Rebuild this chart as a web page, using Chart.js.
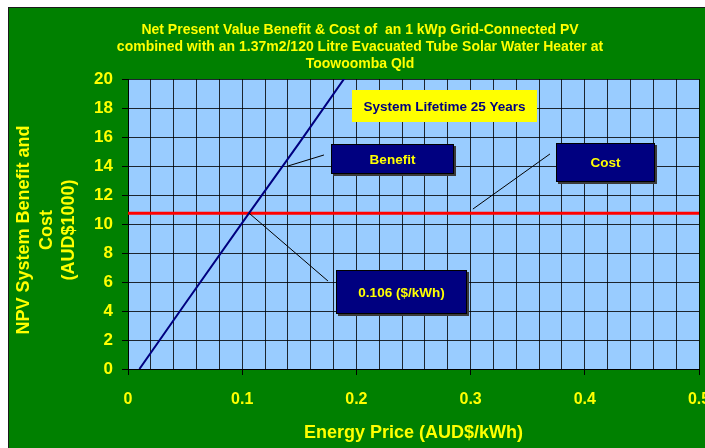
<!DOCTYPE html>
<html>
<head>
<meta charset="utf-8">
<script src="https://cdn.jsdelivr.net/npm/chart.js@4/dist/chart.umd.min.js"></script>
<style>
  html, body { margin: 0; padding: 0; background: #ffffff; }
  canvas { display: block; }
</style>
</head>
<body>
<canvas id="npv" width="705" height="448"></canvas>
<script>
// ---- chart text ----
const titleLines = [
  'Net Present Value Benefit & Cost of  an 1 kWp Grid-Connected PV',
  'combined with an 1.37m2/120 Litre Evacuated Tube Solar Water Heater at',
  'Toowoomba Qld'
];
const yTitleLines = ['NPV System Benefit and', 'Cost', '(AUD$1000)'];
const xTitle = 'Energy Price (AUD$/kWh)';
const xTickLabels = ['0', '0.1', '0.2', '0.3', '0.4', '0.5'];
const yTickLabels = ['0', '2', '4', '6', '8', '10', '12', '14', '16', '18', '20'];

// ---- series (price in AUD$/kWh, NPV in AUD$1000) ----
const benefitPrice = [0.01, 0.05, 0.106, 0.15, 0.19];
const benefitNpv   = [0, 4.5, 10.75, 15.6, 20.1];
const costPrice    = [0, 0.5];
const costNpv      = [10.75, 10.75];
const breakEvenPrice = 0.106;

// ---- callout texts ----
const lifetimeText  = 'System Lifetime 25 Years';
const benefitText   = 'Benefit';
const costText      = 'Cost';
const breakEvenText = breakEvenPrice.toFixed(3) + ' ($/kWh)';

const FONT = '"Liberation Sans", Arial, Helvetica, sans-serif';
const YELLOW = '#ffff00';
const NAVY = '#000080';
const GREEN = '#008000';

// callout boxes and their leader lines, placed in axis units
const callouts = [
  { text: lifetimeText, x0: 0.196, x1: 0.358, yTop: 19.24, yBot: 17.03, fill: YELLOW, color: NAVY, shadow: false },
  { text: benefitText, x0: 0.1778, x1: 0.2855, yTop: 15.52, yBot: 13.45, fill: NAVY, color: YELLOW, shadow: true },
  { text: costText, x0: 0.3748, x1: 0.4615, yTop: 15.59, yBot: 12.9, fill: NAVY, color: YELLOW, shadow: true },
  { text: breakEvenText, x0: 0.1821, x1: 0.2968, yTop: 6.83, yBot: 3.79, fill: NAVY, color: YELLOW, shadow: true }
];
const leaders = [
  { from: [0.1716, 14.76], to: [0.1401, 14.0] },
  { from: [0.3695, 14.83], to: [0.302, 11.03] },
  { from: [0.1751, 6.07], to: [breakEvenPrice, costNpv[0]] }
];

const pairs = (xs, ys) => xs.map((x, i) => ({ x: x, y: ys[i] }));
const isTenth = v => Math.abs(v * 10 - Math.round(v * 10)) < 1e-6;

const backdrop = {
  id: 'backdrop',
  beforeDraw(chart) {
    const { ctx, chartArea: a } = chart;
    ctx.save();
    ctx.fillStyle = '#ffffff';
    ctx.fillRect(0, 0, chart.width, chart.height);
    ctx.fillStyle = '#1b1b1b';
    ctx.fillRect(8, 7, chart.width - 8, chart.height - 7);
    ctx.fillStyle = GREEN;
    ctx.fillRect(9, 8, chart.width - 9, chart.height - 8);
    ctx.fillStyle = '#99ccff';
    ctx.fillRect(a.left, a.top, a.right - a.left, a.bottom - a.top);
    ctx.restore();
  }
};

const notes = {
  id: 'notes',
  afterDatasetsDraw(chart) {
    const { ctx } = chart;
    const xs = chart.scales.x, ys = chart.scales.y;
    const px = v => xs.getPixelForValue(v);
    const py = v => ys.getPixelForValue(v);
    ctx.save();
    ctx.strokeStyle = '#000000';
    ctx.lineWidth = 1;
    leaders.forEach(l => {
      ctx.beginPath();
      ctx.moveTo(px(l.from[0]), py(l.from[1]));
      ctx.lineTo(px(l.to[0]), py(l.to[1]));
      ctx.stroke();
    });
    callouts.forEach(c => {
      const l = Math.round(px(c.x0)), r = Math.round(px(c.x1));
      const t = Math.round(py(c.yTop)), b = Math.round(py(c.yBot));
      if (c.shadow) {
        ctx.fillStyle = '#3a3a3a';
        ctx.fillRect(l + 2, t + 2, r - l, b - t);
      }
      ctx.fillStyle = c.fill;
      ctx.fillRect(l, t, r - l, b - t);
      if (c.shadow) {
        ctx.strokeStyle = '#000000';
        ctx.strokeRect(l + 0.5, t + 0.5, r - l - 1, b - t - 1);
      }
      ctx.fillStyle = c.color;
      ctx.font = 'bold 13.5px ' + FONT;
      ctx.textAlign = 'center';
      ctx.textBaseline = 'middle';
      ctx.fillText(c.text, (l + r) / 2, (t + b) / 2 + 1);
    });
    ctx.restore();
  },
  afterDraw(chart) {
    const { ctx } = chart;
    ctx.save();
    ctx.fillStyle = YELLOW;
    ctx.textAlign = 'center';
    ctx.textBaseline = 'middle';
    ctx.font = 'bold 14px ' + FONT;
    titleLines.forEach((line, i) => ctx.fillText(line, 360, 30 + i * 17));

    ctx.font = 'bold 18px ' + FONT;
    ctx.fillText(xTitle, (chart.chartArea.left + chart.chartArea.right) / 2, 433);

    ctx.translate(47, 230);
    ctx.rotate(-Math.PI / 2);
    yTitleLines.forEach((line, i) => ctx.fillText(line, 0, (i - 1) * 22.5));
    ctx.restore();
  }
};

new Chart(document.getElementById('npv'), {
  type: 'line',
  data: {
    datasets: [
      {
        label: 'Benefit',
        data: pairs(benefitPrice, benefitNpv),
        borderColor: NAVY,
        borderWidth: 2,
        pointRadius: 0,
        tension: 0,
        clip: 0
      },
      {
        label: 'Cost',
        data: pairs(costPrice, costNpv),
        borderColor: '#ff0000',
        borderWidth: 3,
        pointRadius: 0,
        tension: 0,
        clip: 0
      }
    ]
  },
  options: {
    responsive: false,
    animation: false,
    devicePixelRatio: 1,
    layout: { padding: { top: 79, left: 0, right: 6, bottom: 0 } },
    plugins: {
      legend: { display: false },
      title: { display: false },
      tooltip: { enabled: false }
    },
    scales: {
      x: {
        type: 'linear',
        min: 0,
        max: 0.5,
        afterFit(scale) {
          scale.height = 79;
          scale.paddingLeft = 0;
          scale.paddingRight = 0;
        },
        border: { color: '#000000', width: 1 },
        grid: {
          color: 'rgba(0,0,0,0.82)',
          lineWidth: 1,
          tickLength: 6,
          tickColor: ctx => (ctx.tick && isTenth(ctx.tick.value)) ? '#000000' : 'rgba(0,0,0,0)'
        },
        ticks: {
          stepSize: 0.02,
          autoSkip: false,
          maxRotation: 0,
          padding: 15,
          color: YELLOW,
          font: { family: FONT, size: 16, weight: 'bold' },
          callback: v => isTenth(v) ? xTickLabels[Math.round(v * 10)] : ''
        }
      },
      y: {
        type: 'linear',
        min: 0,
        max: 20,
        afterFit(scale) {
          scale.width = 128;
        },
        border: { color: '#000000', width: 1 },
        grid: {
          color: 'rgba(0,0,0,0.82)',
          lineWidth: 1,
          tickLength: 6,
          tickColor: '#000000'
        },
        ticks: {
          stepSize: 2,
          padding: 9,
          color: YELLOW,
          font: { family: FONT, size: 17, weight: 'bold' },
          callback: v => yTickLabels[Math.round(v / 2)]
        }
      }
    }
  },
  plugins: [backdrop, notes]
});
</script>
</body>
</html>
